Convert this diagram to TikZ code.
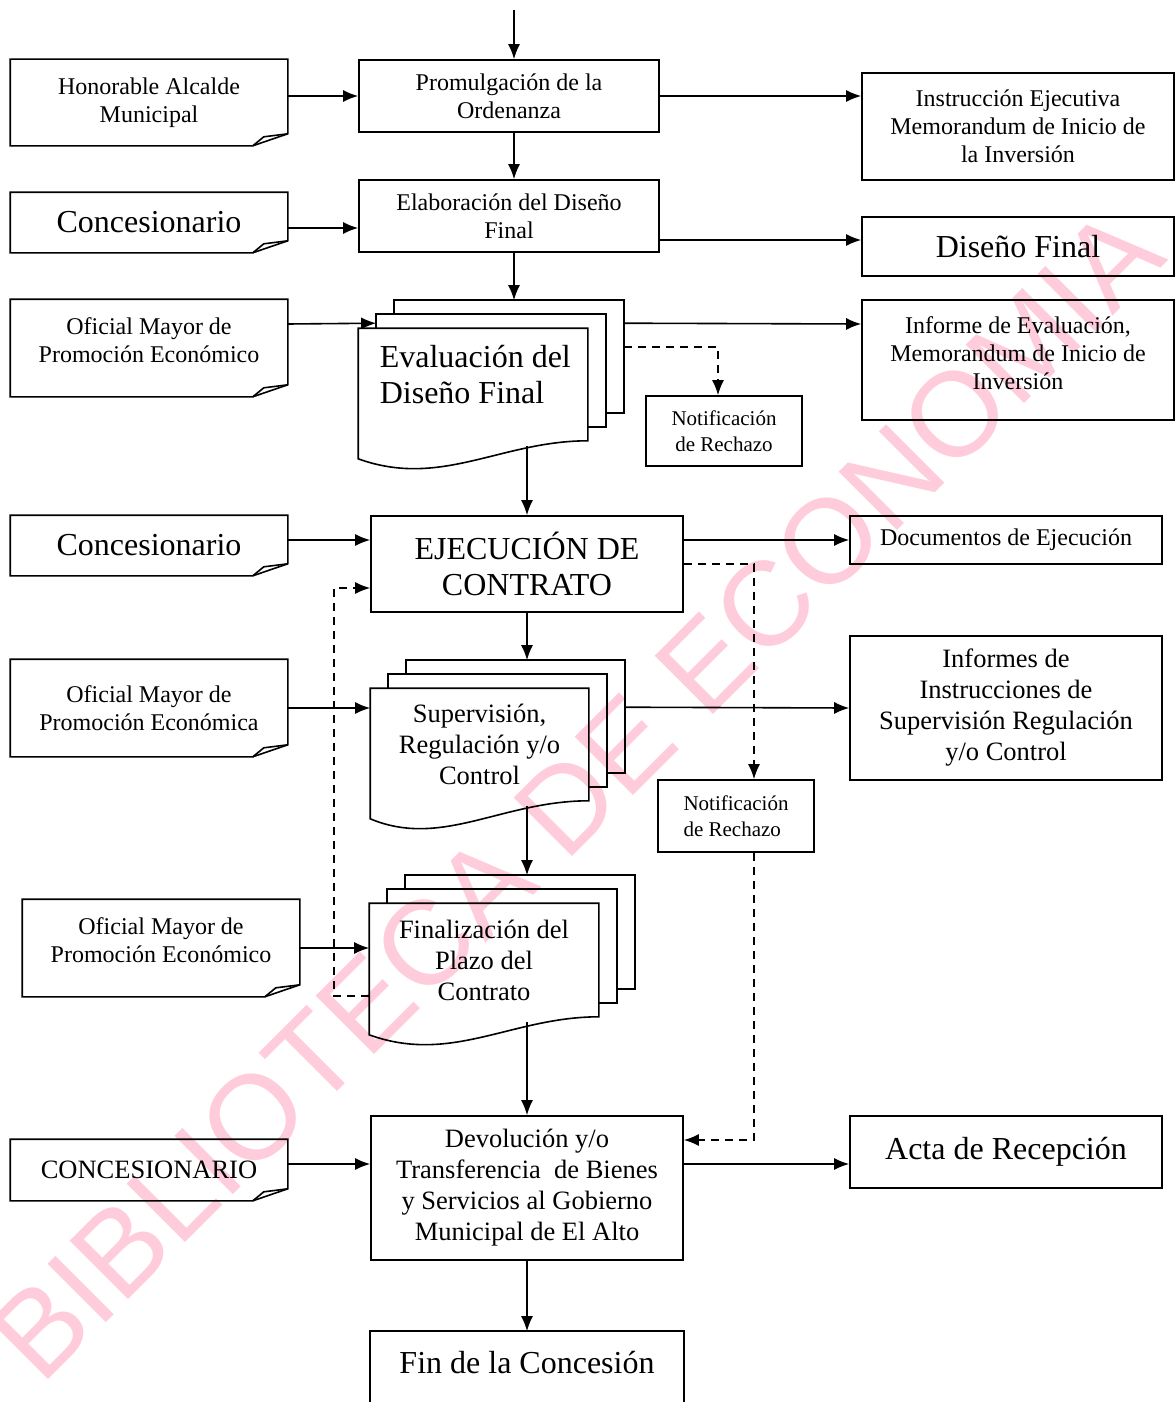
\documentclass[tikz,border=0pt]{standalone}
\usepackage{fontspec}
\setmainfont{Liberation Serif}
\newfontfamily\wmfont{Liberation Sans}
\usetikzlibrary{arrows.meta, positioning}
\definecolor{wmpink}{RGB}{255,204,220}

% paper with a curled corner
\newcommand{\foldbox}[1]{%
  \draw (#1.north west) -- (#1.north east) -- ([yshift=12pt]#1.south east)
    -- ([xshift=-35pt]#1.south east) -- (#1.south west) -- cycle;
  \draw ([xshift=-35pt]#1.south east) -- ([xshift=-24pt,yshift=9pt]#1.south east)
    -- ([yshift=12pt]#1.south east);
}
% three stacked documents
\newcommand{\pagestack}[1]{%
  \draw ([xshift=18pt]#1.north west) -- ++(0,14pt) -| ([xshift=18pt,yshift=14pt]#1.south east) -- ++(-18pt,0);
  \draw ([xshift=36pt,yshift=14pt]#1.north west) -- ++(0,14pt) -| ([xshift=36pt,yshift=28pt]#1.south east) -- ++(-18pt,0);
  \draw (#1.south east) .. controls ([xshift=-87pt]#1.south east) and ([xshift=-147pt,yshift=-48pt]#1.south east)
    .. ([yshift=-18pt]#1.south west) |- (#1.north east) -- cycle;
  \coordinate (#1b) at ([yshift=28pt]#1.north);
}

\begin{document}
\begin{tikzpicture}[x=1pt, y=-1pt, line width=1.6pt,
    >={Latex[length=15pt,width=12pt]},
    box/.style={draw, align=center, inner sep=0pt},
    paper/.style={align=center, inner sep=0pt, minimum width=276pt},
    fs/.style={font=\fontsize{24}{28}\selectfont},
    fm/.style={font=\fontsize{26.5}{31}\selectfont},
    fl/.style={font=\fontsize{32}{36}\selectfont},
    fn/.style={font=\fontsize{21}{26}\selectfont},
    ret/.style={dash pattern=on 8pt off 6pt}]
  \clip (0,0) rectangle (1175,1402);

  \node[rotate=45, text=wmpink, inner sep=0pt, font=\fontsize{120}{120}\wmfont] (W) at (576,794) {BIBLIOTECA DE ECONOMIA};

  % left column
  \node[paper, fs, minimum height=85pt] (H) at (149,102.5) {Honorable Alcalde\\Municipal};
  \node[paper, fl, minimum height=59pt] (C1) at (149,222.5) {Concesionario};
  \node[paper, fs, minimum height=96pt] (O1) at (149,348) {Oficial Mayor de\\Promoción Económico\\[-12pt]};
  \node[paper, fl, minimum height=59pt] (C2) at (149,545.5) {Concesionario};
  \node[paper, fs, minimum height=96pt] (O2) at (149,708) {Oficial Mayor de\\Promoción Económica};
  \node[paper, fs, minimum height=96pt] (O3) at (161,948) {Oficial Mayor de\\Promoción Económico\\[-12pt]};
  \node[paper, fm, minimum height=60pt] (C3) at (149,1170) {CONCESIONARIO};
  \foreach \n in {H,C1,O1,C2,O2,O3,C3} {\foldbox{\n}}

  % middle column
  \coordinate (T) at (514,10);
  \node[box, fs, minimum width=300pt, minimum height=72pt] (P) at (509,96) {Promulgación de la\\Ordenanza};
  \node[box, fs, minimum width=300pt, minimum height=72pt] (L) at (509,216) {Elaboración del Diseño\\Final};
  \node[minimum width=228pt, minimum height=111pt, inner sep=0pt] (E) at (473,384.5) {};
  \node[fl, align=left, inner sep=0pt, anchor=west] (Et) at (379,375) {Evaluación del\\Diseño Final};
  \node[box, fn, minimum width=156pt, minimum height=70pt] (N1) at (724,431) {Notificación\\de Rechazo};
  \node[box, fl, minimum width=312pt, minimum height=96pt] (J) at (527,564) {EJECUCIÓN DE\\CONTRATO};
  \node[fm, align=center, inner sep=0pt, minimum width=217pt, minimum height=111pt] (S) at (479.5,744.5) {Supervisión,\\Regulación y/o\\Control};
  \node[box, fn, align=left, minimum width=156pt, minimum height=72pt] (N2) at (736,816) {Notificación\\de Rechazo};
  \node[fm, align=center, inner sep=0pt, minimum width=228pt, minimum height=112pt] (F) at (484,960) {Finalización del\\Plazo del\\Contrato};
  \node[box, fm, minimum width=312pt, minimum height=144pt] (D) at (527,1188) {Devolución y/o\\Transferencia~ de Bienes\\y Servicios al Gobierno\\Municipal de El Alto};
  \node[fl, inner sep=0pt, minimum width=312pt, minimum height=62pt] (Fn) at (527,1363) {Fin de la Concesión};
  \draw ([yshift=-30pt]Fn.south west) |- (Fn.north east) -- ([yshift=-30pt]Fn.south east);
  \pagestack{E}
  \pagestack{S}
  \pagestack{F}

  % right column
  \node[box, fs, minimum width=312pt, minimum height=107pt] (I) at (1018,126.5) {Instrucción Ejecutiva\\Memorandum de Inicio de\\la Inversión};
  \node[box, fl, minimum width=312pt, minimum height=59pt] (DF) at (1018,246.5) {Diseño Final};
  \node[box, fs, minimum width=312pt, minimum height=120pt] (IE) at (1018,360) {Informe de Evaluación,\\Memorandum de Inicio de\\Inversión\\[-15pt]};
  \node[box, fs, minimum width=312pt, minimum height=48pt] (Dc) at (1006,540) {Documentos de Ejecución};
  \node[box, fm, minimum width=312pt, minimum height=144pt] (In) at (1006,708) {Informes de\\Instrucciones de\\Supervisión Regulación\\y/o Control};
  \node[box, fl, minimum width=312pt, minimum height=72pt] (A) at (1006,1152) {Acta de Recepción};

  % connectors
  \draw[->] (T) -- (T |- P.north);
  \draw[->] (H.east |- P.west) -- (P.west);
  \draw[->] (P.east) -- (P.east -| I.west);
  \draw[->] (T |- P.south) -- (T |- L.north);
  \draw[->] ([yshift=-5.5pt]C1.east) -- ([yshift=-12pt]L.west);
  \draw[->] ([yshift=-24pt]L.east) -- ([yshift=6.5pt]DF.west);
  \draw[->] (T |- L.south) -- (T |- Eb);
  \draw[->] ([yshift=24pt]O1.east) -- ([xshift=18pt,yshift=5pt]E.north west);
  \draw[->] ([xshift=36pt,yshift=5pt]E.north east) -- ([yshift=36pt]IE.west);
  \draw[->, ret] ([xshift=36pt,yshift=-19pt]E.north east) -| ([xshift=-6pt]N1.north);
  \draw[->] ([yshift=-5pt]J.north |- E.south) -- (J.north);
  \draw[->] ([yshift=5.5pt]C2.east) -- ([yshift=24pt]J.west);
  \draw[->] ([yshift=24pt]J.east) -- (Dc.west);
  \draw[->, ret] (J.east) -| ([xshift=18pt]N2.north);
  \draw[->] (J.south) -- (J.south |- Sb);
  \draw[->] (O2.east) -- (O2.east -| S.west);
  \draw[->] ([xshift=36pt,yshift=-19pt]S.north east) -- (In.west);
  \draw[->] ([yshift=-5pt]J.south |- S.south) -- (J.south |- Fb);
  \draw[->] (O3.east) -- (O3.east -| F.west);
  \draw[->, ret] ([yshift=-36pt]F.west) -- ++(-35pt,0) |- ([yshift=-24pt]J.west);
  \draw[->] ([yshift=-5pt]D.north |- F.south) -- (D.north);
  \draw[->, ret] ([xshift=18pt]N2.south) |- ([yshift=48pt]D.east);
  \draw[->] ([yshift=6pt]C3.east) -- ([yshift=24pt]D.west);
  \draw[->] ([yshift=24pt]D.east) -- ([yshift=-12pt]A.west);
  \draw[->] (D.south) -- (Fn.north);
\end{tikzpicture}
\end{document}
